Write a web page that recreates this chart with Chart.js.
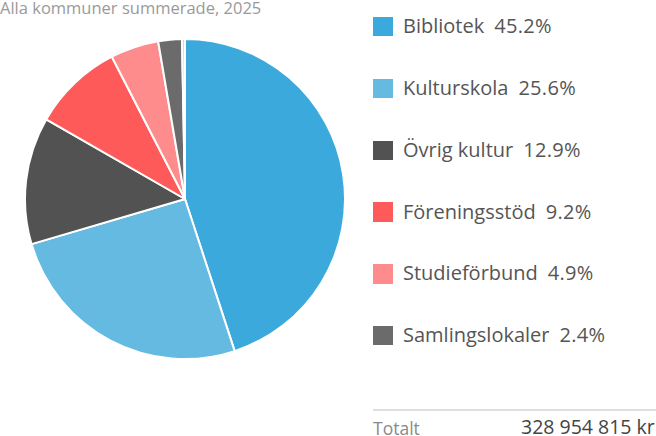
<!DOCTYPE html>
<html>
<head>
<meta charset="utf-8">
<script src="https://cdn.jsdelivr.net/npm/chart.js@4/dist/chart.umd.min.js"></script>
<style>
  html, body { margin: 0; padding: 0; background: #fff; width: 656px; height: 436px; overflow: hidden; position: relative; font-family: "Open Sans", Roboto, sans-serif; }
  #subtitle { position: absolute; left: 0; top: -2px; font-size: 16.5px; color: #9a9a9a; white-space: nowrap; line-height: 20px; }
  #pieWrap { position: absolute; left: 24px; top: 38px; width: 322px; height: 322px; }
  #legend { position: absolute; left: 373px; top: 0; }
  .item { position: absolute; left: 0; height: 20px; display: flex; align-items: center; white-space: nowrap; font-size: 20px; color: #555; }
  .sw { width: 20px; height: 19.5px; margin-right: 10px; box-sizing: border-box; }
  .txt { position: relative; top: -1px; }
  .pct { margin-left: 10px; letter-spacing: 0.3px; }
  #rule { position: absolute; left: 373px; top: 409px; width: 290px; height: 2px; background: #dedede; }
  #totLabel { position: absolute; left: 373px; top: 418px; font-size: 17.5px; color: #8a8a8a; white-space: nowrap; line-height: 20px; }
  #totValue { position: absolute; left: 521px; top: 417px; font-size: 19.5px; color: #444; white-space: nowrap; line-height: 20px; }
</style>
</head>
<body>
<div id="subtitle"></div>
<div id="pieWrap"><canvas id="pie" width="322" height="322"></canvas></div>
<div id="legend"></div>
<div id="rule"></div>
<div id="totLabel"></div>
<div id="totValue"></div>
<script>
const subtitle = "Alla kommuner summerade, 2025";
const categories = ["Bibliotek", "Kulturskola", "Övrig kultur", "Föreningsstöd", "Studieförbund", "Samlingslokaler", "Övrigt"];
const shares = [45.2, 25.6, 12.9, 9.2, 4.9, 2.4, 0.3];
const colors = ["#3BA9DC", "#64BAE1", "#525252", "#FF5A5A", "#FF8C8C", "#6B6B6B", "#D4D4D4"];
const legendCount = 6;
const totalLabel = "Totalt";
const totalValue = "328 954 815 kr";

document.getElementById('subtitle').textContent = subtitle;
document.getElementById('totLabel').textContent = totalLabel;
document.getElementById('totValue').textContent = totalValue;

const legend = document.getElementById('legend');
for (let i = 0; i < legendCount; i++) {
  const it = document.createElement('div');
  it.className = 'item';
  it.style.top = (16.7 + i * 61.8) + 'px';
  const sw = document.createElement('span');
  sw.className = 'sw';
  sw.style.background = colors[i];
  const txt = document.createElement('span');
  txt.className = 'txt';
  const lab = document.createElement('span');
  lab.textContent = categories[i];
  const pct = document.createElement('span');
  pct.className = 'pct';
  pct.textContent = shares[i].toFixed(1) + '%';
  txt.appendChild(lab); txt.appendChild(pct);
  it.appendChild(sw); it.appendChild(txt);
  legend.appendChild(it);
}

new Chart(document.getElementById('pie'), {
  type: 'pie',
  data: {
    labels: categories,
    datasets: [{
      data: shares,
      backgroundColor: colors,
      borderColor: '#ffffff',
      borderWidth: 2,
      hoverOffset: 0,
      offset: 0
    }]
  },
  options: {
    responsive: false,
    animation: false,
    layout: { padding: 0 },
    plugins: { legend: { display: false }, tooltip: { enabled: false }, title: { display: false } }
  }
});
</script>
</body>
</html>
